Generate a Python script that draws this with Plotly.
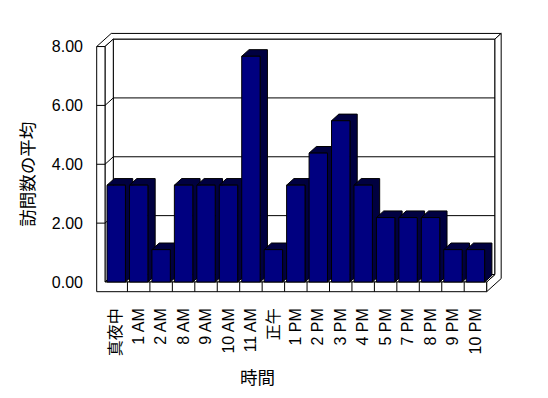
import plotly.graph_objects as go

# ---------------- data ----------------
categories = ["真夜中", "1 AM", "2 AM", "8 AM", "9 AM", "10 AM", "11 AM", "正午",
              "1 PM", "2 PM", "3 PM", "4 PM", "5 PM", "7 PM", "8 PM", "9 PM", "10 PM"]
visits_avg = [3.29, 3.29, 1.10, 3.29, 3.29, 3.29, 7.67, 1.10,
              3.29, 4.38, 5.48, 3.29, 2.19, 2.19, 2.19, 1.10, 1.10]
y_ticks = [0, 2, 4, 6, 8]
y_tick_labels = ["0.00", "2.00", "4.00", "6.00", "8.00"]
x_title = "時間"
y_title = "訪問数の平均"

# ---------------- style / geometry ----------------
W, H = 548, 398
PLOT_L, PLOT_R, PLOT_T, PLOT_B = 95, 505, 31, 294
SX = 22.45            # px per category slot
SY = 29.43            # px per value unit
FRONT_X0_PX = 105     # px of the front-plane left edge
ZERO_PX = 282         # px of value 0 on the front plane

X_MIN = -0.5 - (FRONT_X0_PX - PLOT_L) / SX
X_MAX = X_MIN + (PLOT_R - PLOT_L) / SX
Y_MIN = -(PLOT_B - ZERO_PX) / SY
Y_MAX = (ZERO_PX - PLOT_T) / SY

DX = 8.3 / SX         # oblique depth vector (one depth unit)
DY = 7.5 / SY
T = 0.75              # back wall thickness (depth units)
WALL = 8.3 / SX       # left wall thickness
FLOOR = 9.7 / SY      # floor thickness
BAR_W = 0.82
BAR_Z = 0.88          # bar depth (depth units)

NAVY = "#000080"
DARK = "#000040"
FONT = "Liberation Sans, Noto Sans CJK JP, sans-serif"
CJK = "Noto Sans CJK JP, sans-serif"

n = len(categories)
XL, XR = -0.5, n - 0.5
VMAX = y_ticks[-1]


def P(x, y, z):
    return (x + z * DX, y + z * DY)


def path(pts, close=True):
    s = "M " + " L ".join(f"{px:.4f},{py:.4f}" for px, py in pts)
    return s + (" Z" if close else "")


shapes = []


def add_poly(pts3, fill="white", close=True):
    shapes.append(dict(type="path", xref="x", yref="y", layer="between",
                       path=path([P(*p) for p in pts3], close),
                       fillcolor=fill if close else None,
                       line=dict(color="black", width=1)))


# back wall front face
add_poly([(XL, 0, 1), (XR, 0, 1), (XR, VMAX, 1), (XL, VMAX, 1)])
# top faces (left wall + back wall)
add_poly([(XL - WALL, VMAX, 0), (XL, VMAX, 0), (XL, VMAX, 1), (XR, VMAX, 1),
          (XR, VMAX, 1 + T), (XL - WALL, VMAX, 1 + T)])
# right faces (floor + back wall)
add_poly([(XR, -FLOOR, 0), (XR, 0, 0), (XR, 0, 1), (XR, VMAX, 1),
          (XR, VMAX, 1 + T), (XR, -FLOOR, 1 + T)])
# left wall inner face
add_poly([(XL, 0, 0), (XL, VMAX, 0), (XL, VMAX, 1), (XL, 0, 1)])
# floor top face
add_poly([(XL, 0, 0), (XR, 0, 0), (XR, 0, 1), (XL, 0, 1)])
# front faces (left wall + floor)
add_poly([(XL - WALL, -FLOOR, 0), (XR, -FLOOR, 0), (XR, 0, 0), (XL, 0, 0),
          (XL, VMAX, 0), (XL - WALL, VMAX, 0)])
# gridlines
for g in y_ticks[1:-1]:
    add_poly([(XL - WALL, g, 0), (XL, g, 0), (XL, g, 1), (XR, g, 1)], close=False)
# category dividers on the floor front
for k in range(1, n):
    add_poly([(XL + k, -FLOOR, 0), (XL + k, 0, 0)], close=False)

# bar top + side faces (dark), computed from data
for i, v in enumerate(visits_avg):
    xs, xe = i - BAR_W / 2, i + BAR_W / 2
    add_poly([(xs, v, 0), (xe, v, 0), (xe, 0, 0), (xe, 0, BAR_Z),
              (xe, v, BAR_Z), (xs, v, BAR_Z)], fill=DARK)

fig = go.Figure()
fig.add_trace(go.Bar(
    x=list(range(n)), y=visits_avg, width=BAR_W,
    marker=dict(color=NAVY, line=dict(color="black", width=1)),
    hoverinfo="skip", showlegend=False))

fig.update_layout(
    width=W, height=H,
    margin=dict(l=PLOT_L, r=W - PLOT_R, t=PLOT_T, b=H - PLOT_B),
    paper_bgcolor="white", plot_bgcolor="white",
    shapes=shapes,
    showlegend=False,
    xaxis=dict(range=[X_MIN, X_MAX], tickvals=list(range(n)), ticktext=categories,
               tickangle=-90, showgrid=False, zeroline=False, showline=False,
               ticks="", ticklabelstandoff=10,
               tickfont=dict(family=FONT, size=16, color="black")),
    yaxis=dict(range=[Y_MIN, Y_MAX], tickvals=y_ticks, ticktext=y_tick_labels,
               showgrid=False, zeroline=False, showline=False,
               ticks="", ticklabelstandoff=11,
               tickfont=dict(family=FONT, size=16, color="black")),
    annotations=[
        dict(text=x_title, xref="paper", yref="paper",
             x=(257.5 - PLOT_L) / (PLOT_R - PLOT_L),
             y=(PLOT_B - 376) / (PLOT_B - PLOT_T),
             xanchor="center", yanchor="middle", showarrow=False,
             font=dict(family=CJK, size=17.5, color="black")),
        dict(text=y_title, xref="paper", yref="paper",
             x=(26.3 - PLOT_L) / (PLOT_R - PLOT_L),
             y=(PLOT_B - 174.5) / (PLOT_B - PLOT_T),
             xanchor="center", yanchor="middle", textangle=-90, showarrow=False,
             font=dict(family=CJK, size=17.5, color="black")),
    ],
)

fig.write_html("out.html", config={"displayModeBar": False},
               post_script="document.body.style.margin='0';")
